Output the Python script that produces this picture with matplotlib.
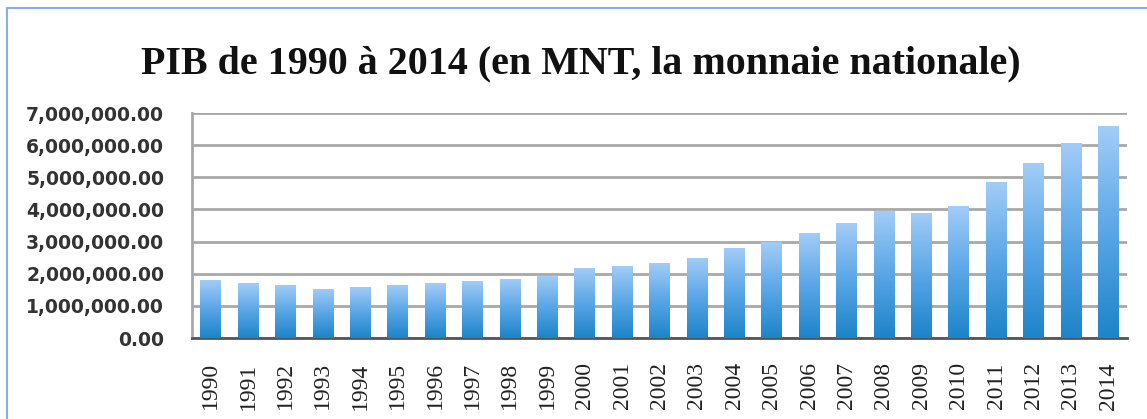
import matplotlib
matplotlib.use("Agg")
import matplotlib.pyplot as plt
import numpy as np
from matplotlib.patches import Rectangle
from matplotlib.ticker import FuncFormatter

years = [str(y) for y in range(1990, 2015)]
pib = [
    1810000, 1710000, 1650000, 1540000, 1590000, 1650000, 1710000, 1780000,
    1840000, 1930000, 2180000, 2240000, 2340000, 2490000, 2800000, 2980000,
    3270000, 3580000, 3960000, 3890000, 4110000, 4860000, 5450000, 6070000,
    6600000,
]
title = "PIB de 1990 à 2014 (en MNT, la monnaie nationale)"

fig = plt.figure(figsize=(11.47, 4.19), dpi=100)
ax = fig.add_axes([0.1674, 0.1933, 0.9826 - 0.1674, 0.7303 - 0.1933])

x = np.arange(len(years))
bars = ax.bar(x, pib, width=0.55, color="none", edgecolor="none", zorder=3)

# vertical gradient: light blue at top, deeper blue at bottom
grad = np.linspace(0, 1, 256).reshape(-1, 1)
cmap = matplotlib.colors.LinearSegmentedColormap.from_list(
    "bar", ["#1c84c8", "#5aa6e6", "#a3cdf7"])
for b in bars:
    x0, w, h = b.get_x(), b.get_width(), b.get_height()
    im = ax.imshow(grad, cmap=cmap, origin="lower", aspect="auto",
                   extent=[x0, x0 + w, 0, h], zorder=3)
    im.set_clip_path(b)

ax.set_xlim(-0.5, len(years) - 0.5)
ax.set_ylim(0, 7000000)
ax.set_yticks(np.arange(0, 7000001, 1000000))
ax.yaxis.set_major_formatter(FuncFormatter(lambda v, p: f"{v:,.2f}"))
ax.grid(axis="y", color="#a8a8a8", linewidth=2, zorder=1)
ax.set_axisbelow(True)

ax.set_xticks(x)
ax.set_xticklabels(years, rotation=90, fontfamily="Liberation Serif",
                   fontsize=17, color="#222222")
for lab in ax.get_yticklabels():
    lab.set_fontsize(13.5)
    lab.set_color("#333333")
    lab.set_fontweight("bold")
ax.tick_params(axis="y", length=0, pad=20)
ax.tick_params(axis="x", length=0, pad=17.5)

for s in ("top", "right"):
    ax.spines[s].set_visible(False)
ax.spines["left"].set_color("#a8a8a8")
ax.spines["left"].set_linewidth(2)
ax.spines["bottom"].set_color("#555555")
ax.spines["bottom"].set_linewidth(2)

fig.text(0.506, 0.848, title, ha="center", va="center", fontsize=28.8,
         fontweight="bold", fontfamily="Liberation Serif", color="#111111")

# blue frame around the chart
fig.patches.append(Rectangle((7 / 1147, -0.1), 1.2, (419 - 8) / 419 + 0.1,
                             transform=fig.transFigure, fill=False,
                             edgecolor="#8cabf0", linewidth=1.5))

fig.savefig("out.png", dpi=100)
